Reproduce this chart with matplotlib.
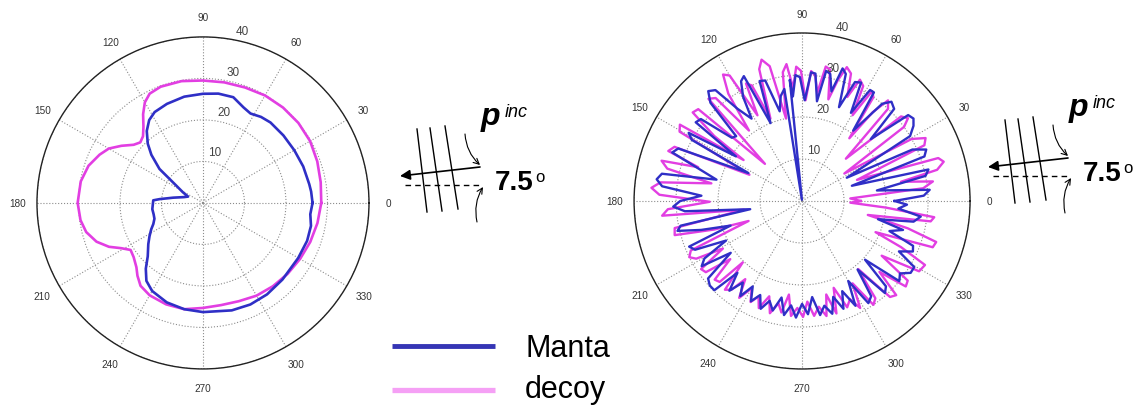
import numpy as np

import matplotlib
matplotlib.use("Agg")
import matplotlib.pyplot as plt


W, H = 1141, 406

ANGLE_TICKS = list(range(0, 360, 30))
R_TICKS = [10, 20, 30, 40]
R_MAX = 40

# Left pattern: (angle in degrees, level)
LEFT_DECOY = [
    (0, 28.5), (10, 28.8), (20, 29.3), (30, 29.8), (40, 30.0), (50, 30.0),
    (60, 29.9), (70, 29.6), (80, 29.5), (90, 29.5), (100, 29.8), (110, 29.8),
    (116, 29.3), (120, 28.0), (124, 25.8), (128, 23.3), (132, 21.6), (136, 21.0),
    (140, 21.8), (145, 24.0), (150, 26.2), (155, 27.5), (162, 29.0), (170, 29.9),
    (180, 30.2), (188, 29.8), (194, 29.0), (200, 27.3), (205, 25.0), (209, 22.5),
    (213, 20.8), (218, 21.2), (224, 22.3), (228, 23.6), (233, 25.0), (240, 25.7),
    (250, 26.0), (260, 26.0), (270, 25.3), (280, 25.0), (290, 25.2), (300, 25.8),
    (310, 26.2), (320, 26.6), (330, 27.0), (340, 27.5), (350, 28.0), (360, 28.5),
]
LEFT_MANTA = [
    (0, 26.4), (6, 26.2), (10, 26.0), (20, 25.7), (30, 25.4), (40, 25.3),
    (50, 25.3), (56, 25.0), (62, 24.4), (67, 25.0), (74, 26.5), (82, 26.6),
    (90, 26.3), (100, 26.0), (110, 25.4), (118, 24.8), (123, 23.8), (128, 22.0),
    (133, 19.5), (137, 17.0), (142, 13.3), (147, 7.7), (152, 5.5), (157, 3.9),
    (163, 4.8), (170, 7.3), (175, 10.5), (177, 12.0), (182, 12.1), (187, 12.3),
    (193, 12.2), (198, 12.3), (203, 13.0), (207, 14.0), (212, 15.2), (217, 16.5),
    (224, 18.5), (229, 21.0), (234, 23.2), (240, 24.5), (250, 25.5), (260, 26.0),
    (270, 26.3), (285, 26.8), (295, 27.0), (305, 26.9), (316, 26.6), (330, 26.5),
    (340, 26.7), (348, 26.6), (354, 26.0), (360, 26.4),
]

# Right pattern: (angle in degrees, level)
RIGHT_DECOY = [
    (0, 14), (3, 11.5), (6, 29), (8.5, 31.5), (11, 24), (13, 33), (15.5, 35),
    (17.5, 34), (21, 14), (24.5, 32), (27, 33), (29.5, 30), (33, 12), (36, 30),
    (38, 32), (40.5, 31), (44, 14.5), (47, 30), (49.5, 31.5), (51.5, 27),
    (53, 18.7), (55.5, 30), (57.5, 31), (59.5, 23.7),
    (62, 31), (64.5, 32), (66.5, 27), (69, 32.5), (71.5, 33.6), (73.5, 30),
    (75.5, 25), (78, 32), (80, 32.5), (82, 26), (84, 30), (86, 31), (88, 24),
    (90.5, 31), (92.5, 32), (94.5, 27), (96.5, 32.8), (98.5, 31), (101, 20),
    (103.5, 33), (106, 35), (108, 33), (111, 21), (113.5, 30), (115.5, 31),
    (117.5, 23), (120, 34.5), (122, 35.5), (124.5, 31),
    (127, 21), (130, 32), (132.5, 33), (135, 12.5), (138.5, 33), (141, 33.5),
    (143.5, 26), (145, 17), (148, 34.3), (150.5, 33.5), (153.5, 14), (157, 33),
    (159.5, 34), (162, 26), (164, 34.8), (166.5, 33), (169, 22), (172.5, 34),
    (175, 36), (177.5, 34), (180.5, 22),
    (183.5, 32), (186, 33.5), (188.5, 14), (192, 31), (195, 31.4), (198, 22),
    (200.5, 13.6), (204, 29), (206.5, 30), (208.6, 28.7), (211, 22), (214, 29),
    (216.5, 28.5), (219, 22), (222, 28), (224.5, 27.5), (226, 20.3), (229, 28),
    (231.5, 27), (234, 23), (237, 27.5), (240, 24),
    (243, 27), (245.5, 25), (248, 27.5), (251, 24), (254, 27.8), (257, 25),
    (259.5, 27), (262, 22.5), (264.5, 27.5), (267.5, 25.5), (270.5, 27.6),
    (273, 24), (276, 27.5), (279, 25.5), (282, 28), (284.5, 23), (287, 28),
    (290, 22), (293, 27.5), (296, 26), (298.5, 29),
    (301.5, 23), (304.5, 30), (307, 29), (309.5, 21), (312.5, 31), (315, 31.7),
    (317.5, 25), (320.5, 32), (323, 31.5), (325.5, 23), (329, 32.5), (332.5, 33),
    (335, 26), (337, 19), (340.5, 33), (343, 33.4), (345.5, 26), (348, 16),
    (351, 31), (353, 31.7), (355.5, 20), (358, 11.5), (360, 14),
]
RIGHT_MANTA = [
    (0, 22), (2.5, 29), (5, 30.5), (8, 18), (11.5, 30), (14, 31), (17, 12.4),
    (20, 31), (22.5, 32), (25, 29), (27.5, 12), (31, 30), (34, 32), (36.5, 33),
    (39, 32.5), (42, 22), (45, 31), (48, 31.8), (50.5, 30), (54, 20.7),
    (56.5, 31), (58.5, 31),
    (61, 24), (63.5, 31.5), (66, 31), (68.5, 24), (71, 32), (73, 33), (75, 27),
    (77.5, 31), (79.5, 31.5), (81.5, 24), (84, 30.5), (86, 30.7), (88.5, 24),
    (91, 29.5), (93, 30), (95, 25), (95.8, 29), (97.5, 0.3), (99, 27),
    (101.5, 25.5), (104, 22), (107, 30), (109.5, 30.3), (112, 20), (115, 32.8),
    (117, 32), (119.5, 28.5), (121.5, 23),
    (125, 26.8), (128, 33.5), (130.5, 34.4), (133, 32), (135.5, 22), (138, 22.5),
    (141, 31), (143.5, 31.5), (146, 19), (149, 31.5), (151, 30), (152.5, 14.4),
    (157, 32), (159.5, 33), (162, 27), (166, 21), (169, 34), (171.5, 35),
    (174, 33.5), (177, 24), (180, 29),
    (182.5, 30.7), (185, 28), (189, 12.5), (191.5, 29.5), (193.5, 30.5),
    (196, 25), (199, 18), (202, 29), (204.5, 28), (207.5, 20.4), (210.5, 27),
    (213, 28.5), (216, 21), (219.5, 29), (222.5, 29.8), (225.5, 29.8), (228, 23),
    (231, 27.5), (234, 24), (237, 27), (240, 23.5),
    (243, 26.8), (246, 24.5), (249, 27.5), (252, 25), (255, 27), (258, 23.5),
    (261, 27.5), (264, 25), (267, 27.8), (270, 24.5), (273, 27), (276, 23),
    (279, 27.5), (282, 25.5), (285, 27.8), (288, 24), (291, 27.5), (294, 23.5),
    (297, 28),
    (300, 22), (303, 29), (306, 28), (309, 21), (312, 29.5), (314.5, 28.5),
    (317, 20.5), (320.5, 30), (323.5, 29), (326.5, 31), (329.5, 31), (332.5, 26),
    (335.5, 29), (338, 28.5), (341, 22), (344, 25), (346.5, 18.6), (349.5, 27),
    (352.5, 28.5), (355.5, 23), (358, 25), (360, 22),
]

MANTA_COLOR = "#2f2fc6"
DECOY_COLOR = "#e23ee2"

plt.rcParams["font.family"] = ["Liberation Sans", "DejaVu Sans"]


def setup_polar(ax):
    ax.set_theta_zero_location("E")
    ax.set_ylim(0, R_MAX)
    ax.set_rticks(R_TICKS)
    ax.set_yticklabels([])
    ax.set_thetagrids(ANGLE_TICKS, [str(a) for a in ANGLE_TICKS])
    ax.tick_params(axis="x", labelsize=7.2, colors="#333333", pad=3.5)
    ax.grid(True, linestyle=":", color="#8c8c8c", linewidth=0.8)
    ax.spines["polar"].set_color("#222222")
    ax.spines["polar"].set_linewidth(1.0)
    for r in R_TICKS:
        ax.text(np.deg2rad(77), r + 2.5, str(r), ha="center", va="center",
                fontsize=8.5, color="#444444")


def plot_pattern(ax, decoy, manta, lw):
    style = dict(linewidth=lw, solid_joinstyle="round")
    deg, r = np.array(decoy).T
    ax.plot(np.deg2rad(deg), r, color=DECOY_COLOR, **style)
    deg, r = np.array(manta).T
    ax.plot(np.deg2rad(deg), r, color=MANTA_COLOR, **style)


def draw_incidence(ov, tx, ty):
    # wavefronts, incidence arrow, reference line and angle label
    for x1, y1, x2, y2 in [(17, -47, 27, 36), (30, -48, 42, 35), (45, -50, 58, 33)]:
        ov.plot([tx + x1, tx + x2], [ty + y1, ty + y2], color="black", lw=1.0)
    ov.annotate("", xy=(tx, ty), xytext=(tx + 80, ty - 9),
                arrowprops=dict(arrowstyle="-|>", color="black", lw=1.2,
                                mutation_scale=15, shrinkA=0, shrinkB=0))
    ov.plot([tx + 5, tx + 80], [ty + 9, ty + 9], color="black", lw=1.0,
            linestyle=(0, (4, 3)))
    ov.annotate("", xy=(tx + 80, ty - 11), xytext=(tx + 65, ty - 42),
                arrowprops=dict(arrowstyle="->", color="black", lw=0.8,
                                connectionstyle="arc3,rad=0.2",
                                shrinkA=0, shrinkB=0))
    ov.annotate("", xy=(tx + 83, ty + 11), xytext=(tx + 77, ty + 46),
                arrowprops=dict(arrowstyle="->", color="black", lw=0.8,
                                connectionstyle="arc3,rad=-0.2",
                                shrinkA=0, shrinkB=0))
    ov.text(tx + 95, ty + 13, "7.5", fontsize=20, fontweight="bold",
            ha="left", va="baseline")
    ov.text(tx + 135, ty + 5, "o", fontsize=12, ha="left", va="baseline")
    ov.text(tx + 81, ty - 52, "p", fontsize=23, fontweight="bold",
            fontstyle="italic", ha="left", va="baseline")
    ov.text(tx + 105, ty - 60, "inc", fontsize=13, fontstyle="italic",
            ha="left", va="baseline")


def main():
    fig = plt.figure(figsize=(W / 100, H / 100), dpi=100)

    ax_left = fig.add_axes([0.0324, 0.0887, 0.291, 0.818], projection="polar")
    setup_polar(ax_left)
    plot_pattern(ax_left, LEFT_DECOY, LEFT_MANTA, lw=1.9)

    ax_right = fig.add_axes([0.5557, 0.0887, 0.2945, 0.8276], projection="polar")
    setup_polar(ax_right)
    plot_pattern(ax_right, RIGHT_DECOY, RIGHT_MANTA, lw=1.7)

    # overlay in pixel coordinates for the sketches and the legend
    ov = fig.add_axes([0, 0, 1, 1])
    ov.set_xlim(0, W)
    ov.set_ylim(H, 0)
    ov.axis("off")
    ov.patch.set_alpha(0)

    draw_incidence(ov, 400, 177)
    draw_incidence(ov, 988, 168)

    ov.plot([392, 495], [347, 347], color="#3535b5", lw=3.5, solid_capstyle="butt")
    ov.plot([392, 495], [391, 391], color="#f5a0f5", lw=3.8, solid_capstyle="butt")
    ov.text(525, 357, "Manta", fontsize=22, ha="left", va="baseline")
    ov.text(525, 398, "decoy", fontsize=22, ha="left", va="baseline")

    fig.savefig("out.png", dpi=100)
    plt.close(fig)


if __name__ == "__main__":
    main()
